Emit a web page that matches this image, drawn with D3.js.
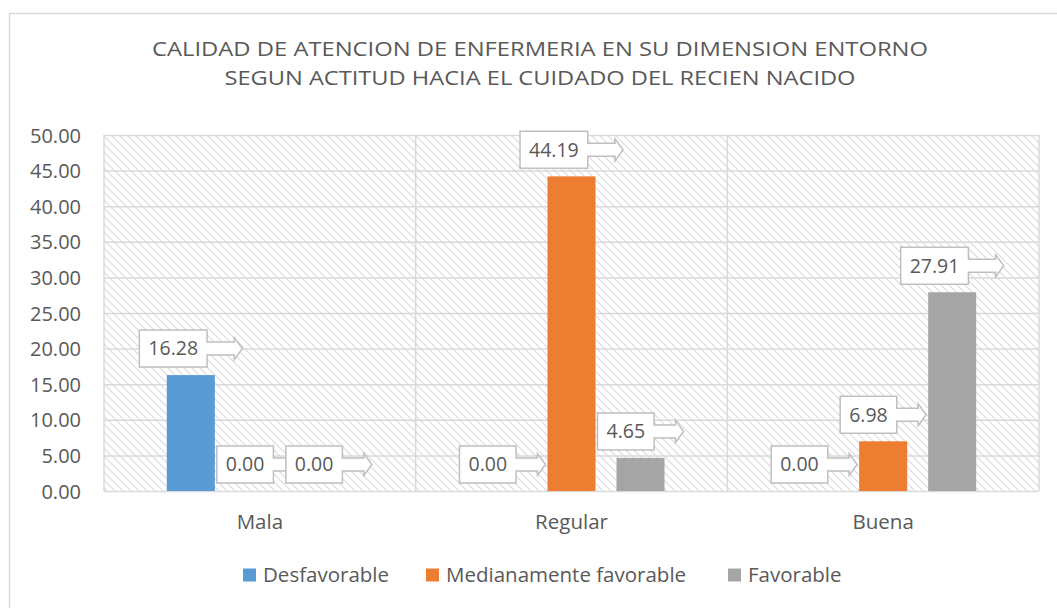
<!DOCTYPE html>
<html>
<head>
<meta charset="utf-8">
<script src="https://cdn.jsdelivr.net/npm/d3@7"></script>
<style>
    body { margin: 0; background: #fff; }
    svg text { font-family: "Open Sans", sans-serif; fill: #595959; }
</style>
</head>
<body>
<div id="chart"></div>
<script>
// data
var categories = ["Mala", "Regular", "Buena"];
var seriesNames = ["Desfavorable", "Medianamente favorable", "Favorable"];
var desfavorable = [16.28, 0.00, 0.00];
var medianamente = [0.00, 44.19, 6.98];
var favorable = [0.00, 4.65, 27.91];
var yTicks = [0, 5, 10, 15, 20, 25, 30, 35, 40, 45, 50];
var titleLines = [
    "CALIDAD DE ATENCION DE ENFERMERIA EN SU DIMENSION ENTORNO",
    "SEGUN ACTITUD HACIA EL CUIDADO DEL RECIEN NACIDO"
];

var colors = ["#5B9BD5", "#ED7D31", "#A5A5A5"];
var seriesValues = [desfavorable, medianamente, favorable];

var width = 1057, height = 608;
var plot = { left: 104, top: 135, right: 1039, bottom: 491 };

var svg = d3.select("#chart").append("svg")
    .attr("width", width)
    .attr("height", height);

// hatch pattern for the plot area
var defs = svg.append("defs");
var pattern = defs.append("pattern")
    .attr("id", "hatch")
    .attr("patternUnits", "userSpaceOnUse")
    .attr("width", 8)
    .attr("height", 8);
pattern.append("rect").attr("width", 8).attr("height", 8).attr("fill", "#fff");
pattern.append("path")
    .attr("d", "M0,0 L8,8 M-2,6 L2,10 M6,-2 L10,2")
    .attr("stroke", "#dcdcdc")
    .attr("stroke-width", 1.2);

// outer chart border
svg.append("rect")
    .attr("x", 9.5).attr("y", 13.5)
    .attr("width", 1100).attr("height", 700)
    .attr("fill", "none")
    .attr("stroke", "#d9d9d9")
    .attr("stroke-width", 1.5);

// title (stretched to the width of the original lines)
var titleWidths = [776, 631];
svg.append("g").selectAll("text")
    .data(titleLines)
    .join("text")
    .attr("x", (d, i) => 540 - titleWidths[i] / 2)
    .attr("y", (d, i) => 56 + i * 29)
    .attr("textLength", (d, i) => titleWidths[i])
    .attr("lengthAdjust", "spacingAndGlyphs")
    .style("font-size", "19.5px")
    .text(d => d);

// scales
var x0 = d3.scaleBand()
    .domain(categories)
    .range([plot.left, plot.right]);

var x1 = d3.scaleBand()
    .domain(d3.range(seriesNames.length))
    .range([0, x0.bandwidth()])
    .paddingInner(0.304)
    .paddingOuter(0.91);

var y = d3.scaleLinear()
    .domain([0, 50])
    .range([plot.bottom, plot.top]);

// plot background
svg.append("rect")
    .attr("x", plot.left).attr("y", plot.top)
    .attr("width", plot.right - plot.left)
    .attr("height", plot.bottom - plot.top)
    .attr("fill", "url(#hatch)");

// gridlines
svg.append("g")
    .attr("transform", `translate(${plot.left},0)`)
    .call(d3.axisLeft(y).tickValues(yTicks).tickSize(-(plot.right - plot.left)).tickFormat(""))
    .call(g => g.select(".domain").remove())
    .call(g => g.selectAll("line").attr("stroke", "#d9d9d9").attr("stroke-width", 1.5));

// category separators and frame
svg.append("g").selectAll("line")
    .data(categories.concat(["end"]))
    .join("line")
    .attr("x1", (d, i) => plot.left + i * x0.step())
    .attr("x2", (d, i) => plot.left + i * x0.step())
    .attr("y1", plot.top)
    .attr("y2", plot.bottom)
    .attr("stroke", "#d9d9d9")
    .attr("stroke-width", 1.5);

// y axis labels
svg.append("g")
    .attr("transform", `translate(${plot.left - 23},0)`)
    .call(d3.axisLeft(y).tickValues(yTicks).tickSize(0).tickFormat(d3.format(".2f")))
    .call(g => g.select(".domain").remove())
    .call(g => g.selectAll("text")
        .style("font-size", "20px")
        .style("font-family", "'Open Sans', sans-serif")
        .attr("fill", "#595959")
        .attr("dy", "0.35em")
        .attr("x", 0));

// x axis labels
svg.append("g")
    .attr("transform", `translate(0,${plot.bottom})`)
    .call(d3.axisBottom(x0).tickSize(0))
    .call(g => g.select(".domain").remove())
    .call(g => g.selectAll("text")
        .style("font-size", "20.5px")
        .style("font-family", "'Open Sans', sans-serif")
        .attr("fill", "#595959")
        .attr("y", 31)
        .attr("dy", "0.35em"));

// bars
var flat = [];
categories.forEach((c, ci) => {
    seriesValues.forEach((vals, si) => {
        flat.push({ cat: c, s: si, value: vals[ci] });
    });
});

svg.append("g").selectAll("rect")
    .data(flat)
    .join("rect")
    .attr("x", d => x0(d.cat) + x1(d.s))
    .attr("y", d => y(d.value))
    .attr("width", x1.bandwidth())
    .attr("height", d => y(0) - y(d.value))
    .attr("fill", d => colors[d.s]);

// callout labels (box with right arrow)
var labelOrder = d3.sort(flat, d => d.s);
var labels = svg.append("g");
var boxH = 37, headLen = 8, headHalf = 11, shaftHalf = 6.5;

labelOrder.forEach(d => {
    var g = labels.append("g");
    var txt = g.append("text")
        .style("font-size", "19.5px")
        .attr("dy", "0.35em")
        .text(d3.format(".2f")(d.value));
    var tw = txt.node().getComputedTextLength();
    var boxW = tw + 18;
    var arrowW = boxW * 0.52;
    var total = boxW + arrowW;
    var cx = x0(d.cat) + x1(d.s) + x1.bandwidth() / 2;
    var left = cx - total / 2;
    var bottom = y(d.value) - 8;
    var top = bottom - boxH;
    var mid = top + boxH / 2;
    var tip = left + total;
    var br = left + boxW;

    var path = d3.path();
    path.moveTo(left, top);
    path.lineTo(br, top);
    path.lineTo(br, mid - shaftHalf);
    path.lineTo(tip - headLen, mid - shaftHalf);
    path.lineTo(tip - headLen, mid - headHalf);
    path.lineTo(tip, mid);
    path.lineTo(tip - headLen, mid + headHalf);
    path.lineTo(tip - headLen, mid + shaftHalf);
    path.lineTo(br, mid + shaftHalf);
    path.lineTo(br, bottom);
    path.lineTo(left, bottom);
    path.closePath();

    g.insert("path", "text")
        .attr("d", path.toString())
        .attr("fill", "#fff")
        .attr("stroke", "#bfbfbf")
        .attr("stroke-width", 1.5);

    txt.attr("x", left + boxW / 2)
        .attr("y", mid)
        .attr("text-anchor", "middle");
});

// legend
var legendX = [243, 426, 728];
var legend = svg.append("g").selectAll("g")
    .data(seriesNames)
    .join("g")
    .attr("transform", (d, i) => `translate(${legendX[i]},575)`);

legend.append("rect")
    .attr("x", 0).attr("y", -6.5)
    .attr("width", 13).attr("height", 13)
    .attr("fill", (d, i) => colors[i]);

legend.append("text")
    .attr("x", 20)
    .attr("dy", "0.35em")
    .style("font-size", "20.5px")
    .text(d => d);
</script>
</body>
</html>
